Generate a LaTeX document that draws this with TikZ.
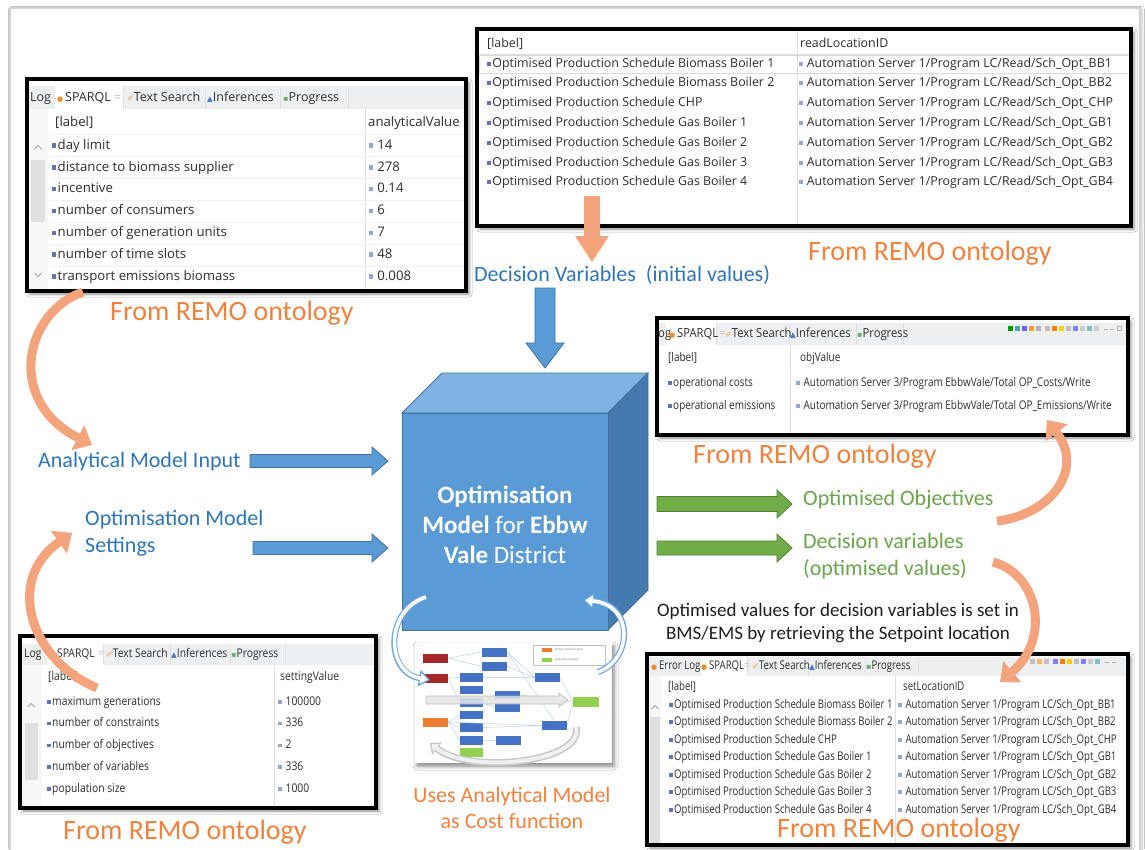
\documentclass[tikz,border=0pt]{standalone}
\usepackage{fontspec}
\setmainfont{Carlito}
\newfontfamily\uiA{Open Sans}
\newfontfamily\uiT[FakeStretch=0.9]{Open Sans}
\newfontfamily\uiC[FakeStretch=0.83]{Open Sans}
\newfontfamily\uiD[FakeStretch=0.86]{Open Sans}
\newfontfamily\uiE[FakeStretch=0.8]{Open Sans}
\newfontfamily\symf{DejaVu Sans}
\usetikzlibrary{arrows.meta,shadows.blur}

\definecolor{slideblue}{RGB}{46,117,182}
\definecolor{orangetxt}{RGB}{238,130,62}
\definecolor{greentxt}{RGB}{106,165,75}
\definecolor{notetxt}{RGB}{30,30,30}
\definecolor{boxblue}{RGB}{91,155,213}
\definecolor{boxedge}{RGB}{65,113,156}
\definecolor{cubetop}{RGB}{126,178,227}
\definecolor{cubeside}{RGB}{68,122,176}
\definecolor{arrowgreen}{RGB}{112,173,71}
\definecolor{greenedge}{RGB}{80,126,50}
\definecolor{salmon}{RGB}{243,164,124}
\definecolor{tabgray}{RGB}{238,239,241}
\definecolor{gridgray}{RGB}{222,222,222}
\definecolor{uitext}{RGB}{45,45,45}
\definecolor{bulletdark}{RGB}{100,115,175}
\definecolor{bulletlight}{RGB}{150,165,205}
\definecolor{dotorange}{RGB}{240,140,40}
\definecolor{searchy}{RGB}{225,175,80}
\definecolor{infblue}{RGB}{70,120,200}
\definecolor{proggreen}{RGB}{110,175,110}
\definecolor{arcblue}{RGB}{110,165,220}
\definecolor{tred}{RGB}{165,40,40}
\definecolor{tblue}{RGB}{68,114,196}
\definecolor{torange}{RGB}{237,125,49}
\definecolor{tgreen}{RGB}{146,208,80}

% list bullets and tab icons
\newcommand\bq{{\color{bulletdark}\rule[0.12em]{0.32em}{0.32em}}\hspace{0.1em}}
\newcommand\bv{{\color{bulletlight}\rule[0.12em]{0.32em}{0.32em}}\hspace{0.3em}}
\newcommand\tdot{{\symf\fontsize{7}{7}\selectfont\color{dotorange}●}\hspace{0.15em}}
\newcommand\tclose{{\color{gray!50}=}}
\newcommand\tsearch{{\symf\fontsize{8}{8}\selectfont\color{searchy}✐}}
\newcommand\tinf{{\symf\fontsize{7.5}{7.5}\selectfont\color{infblue}▲}}
\newcommand\tprog{{\symf\fontsize{8}{8}\selectfont\color{proggreen}▪}}

% block arrows: start, end, centre, shaft half width, head half width, head length, style
\newcommand\blockright[7]{%
  \path[#7] (#1,#3-#4) -- (#2-#6,#3-#4) -- (#2-#6,#3-#5) -- (#2,#3)
    -- (#2-#6,#3+#5) -- (#2-#6,#3+#4) -- (#1,#3+#4) -- cycle;}
\newcommand\blockdown[7]{%
  \path[#7] (#1-#4,#2) -- (#1-#4,#3-#6) -- (#1-#5,#3-#6) -- (#1,#3)
    -- (#1+#5,#3-#6) -- (#1+#4,#3-#6) -- (#1+#4,#2) -- cycle;}
% scroll bar chevrons
\newcommand\chevup[2]{\draw[gray!70,line width=0.9pt] (#1-3.5,#2+2) -- (#1,#2-1.5) -- (#1+3.5,#2+2);}
\newcommand\chevdown[2]{\draw[gray!70,line width=0.9pt] (#1-3.5,#2-2) -- (#1,#2+1.5) -- (#1+3.5,#2-2);}

\begin{document}
\begin{tikzpicture}[x=1pt,y=-1pt,
  panelbg/.style={fill=white, blur shadow={shadow xshift=3pt, shadow yshift=-3pt, shadow blur radius=3pt, shadow opacity=45}},
  panelline/.style={draw=black, line width=4pt},
  cellbase/.style={text=uitext, inner sep=0pt, anchor=west},
  cellA/.style={cellbase, font=\uiA\fontsize{13.2}{15}\selectfont, text height=9.6pt, text depth=3pt},
  cellB/.style={cellbase, font=\uiA\fontsize{12.4}{14}\selectfont, text height=9pt, text depth=2.8pt},
  cellC/.style={cellbase, font=\uiC\fontsize{12}{14}\selectfont, text height=8.7pt, text depth=2.7pt},
  cellD/.style={cellbase, font=\uiD\fontsize{12}{14}\selectfont, text height=8.7pt, text depth=2.7pt},
  cellE/.style={cellbase, font=\uiE\fontsize{12}{14}\selectfont, text height=8.7pt, text depth=2.7pt},
  tabA/.style={cellbase, font=\uiA\fontsize{12.5}{14}\selectfont, text height=9pt, text depth=2.8pt},
  tabC/.style={cellbase, font=\uiT\fontsize{12.5}{14}\selectfont, text height=9pt, text depth=2.8pt},
  tabD/.style={cellD},
  tabE/.style={cellE},
  slidetext/.style={inner sep=0pt, anchor=west, align=left, font=\fontsize{22}{27}\selectfont},
  bluetext/.style={slidetext, text=slideblue},
  greentext/.style={slidetext, text=greentxt},
  fromremo/.style={inner sep=0pt, anchor=west, font=\fontsize{28}{32}\selectfont, text=orangetxt},
  bluearr/.style={fill=boxblue, draw=boxedge, line width=0.8pt},
  greenarr/.style={fill=arrowgreen, draw=greenedge, line width=0.8pt},
  salmonblk/.style={fill=salmon},
  salmonarc/.style={draw=salmon, line width=9pt, -{Triangle[length=16pt,width=28pt,line width=0pt]}},
  tb/.style={minimum width=25pt, minimum height=9pt, inner sep=0pt},
  tline/.style={draw=tblue!35, line width=0.5pt},
]
\useasboundingbox (0,0) rectangle (1145,849);
\fill[white] (0,0) rectangle (1145,849);

% slide frame
\draw[gray!35, line width=1.2pt, fill=white, blur shadow={shadow xshift=1.5pt, shadow yshift=-1.5pt, shadow blur radius=3pt, shadow opacity=30}] (10,8) rectangle (1140,880);

% ---------------- analytical model input table
\fill[panelbg] (27,79) rectangle (466,291);
\fill[tabgray] (29,86) rectangle (464,109);
\fill[white] (55,86) rectangle (123,109);
\draw[gridgray] (123,87) -- (123,108) (205,87) -- (205,108) (280,87) -- (280,108) (348,87) -- (348,108);
\fill[gray!6] (29,109) rectangle (48,289);
\fill[gray!25] (31,160) rectangle (45,222);
\chevup{38}{147}
\chevdown{38}{275}
\draw[gridgray] (365,109) -- (365,289);
\foreach \yy in {134,156.5,178,200,222,244,266} \draw[gray!10] (50,\yy) -- (464,\yy);
\node[tabA] (p1t0) at (30,98) {Log};
\node[tabA] (p1t1) at (57,98) {\tdot SPARQL};
\node[tabA] (p1t2) at (114,98) {\tclose};
\node[tabA] (p1t3) at (127,98) {\tsearch Text Search};
\node[tabA] (p1t4) at (207,98) {\tinf Inferences};
\node[tabA] (p1t5) at (283,98) {\tprog Progress};
\node[cellA] (p1h1) at (55,123) {[label]};
\node[cellA] (p1h2) at (368,123) {analyticalValue};
\foreach \lab/\val [count=\i] in {day limit/14, distance to biomass supplier/278, incentive/0.14, number of consumers/6, number of generation units/7, number of time slots/48, transport emissions biomass/0.008}{
  \node[cellA] (p1l\i) at (52,{146+21.8*(\i-1)}) {\bq\lab};
  \node[cellA] (p1v\i) at (369,{146+21.8*(\i-1)}) {\bv\val};
}
\draw[panelline] (27,79) rectangle (466,291);

% ---------------- read location table
\fill[panelbg] (477,29) rectangle (1131,226);
\draw[gridgray] (479,54) -- (1129,54);
\draw[gridgray] (797,31) -- (797,224);
\draw[gray!30] (479,55) rectangle (1129,73.5);
\node[cellB] (p2h1) at (487,44) {[label]};
\node[cellB] (p2h2) at (800,44) {readLocationID};
\foreach \s/\c [count=\i] in {Biomass Boiler 1/BB1, Biomass Boiler 2/BB2, CHP/CHP, Gas Boiler 1/GB1, Gas Boiler 2/GB2, Gas Boiler 3/GB3, Gas Boiler 4/GB4}{
  \node[cellB] (p2l\i) at (487,{64+19.8*(\i-1)}) {\bq Optimised Production Schedule \s};
  \node[cellB] (p2v\i) at (799,{64+19.8*(\i-1)}) {\bv Automation Server 1/Program LC/Read/Sch\_Opt\_\c};
}
\draw[panelline] (477,29) rectangle (1131,226);

% ---------------- objective values table
\fill[panelbg] (657,318) rectangle (1128,435);
\fill[tabgray] (659,323) rectangle (1126,345);
\fill[white] (666,323) rectangle (716,345);
\draw[gridgray] (716,324) -- (716,344) (789,324) -- (789,344) (856,324) -- (856,344) (903,324) -- (903,344);
\node[tabC] (p3t0) at (658,334) {og};
\node[tabC] (p3t1) at (669,334) {\tdot SPARQL};
\node[tabC] (p3t2) at (719,334) {\tclose};
\node[tabC] (p3t3) at (725,334) {\tsearch Text Search};
\node[tabC] (p3t4) at (790,334) {\tinf Inferences};
\node[tabC] (p3t5) at (857,334) {\tprog Progress};
\foreach \xx/\cc in {1008/green!60!black,1015/teal!70,1022/blue!60,1029/orange!80,1036/gray!60,1045/gray!50,1052/orange,1059/yellow!70!orange,1066/gray!50,1073/blue!50,1080/gray!40,1087/teal!50,1094/gray!40}
  \fill[\cc] (\xx,326) rectangle ++(4.5,4.5);
\draw[gray!60] (1104,329) -- (1108,329) (1110,329) -- (1114,329) (1117,326) rectangle (1121,330);
\draw[gridgray] (790,345) -- (790,433);
\node[cellC] (p3h1) at (668,358) {[label]};
\node[cellC] (p3h2) at (800,358) {objValue};
\node[cellC] (p3l1) at (668,383) {\bq operational costs};
\node[cellC] (p3v1) at (796,383) {\bv Automation Server 3/Program EbbwVale/Total OP\_Costs/Write};
\node[cellC] (p3l2) at (668,406) {\bq operational emissions};
\node[cellC] (p3v2) at (796,406) {\bv Automation Server 3/Program EbbwVale/Total OP\_Emissions/Write};
\draw[panelline] (657,318) rectangle (1128,435);

% ---------------- optimisation settings table
\fill[panelbg] (20,636) rectangle (376,808);
\fill[tabgray] (22,644) rectangle (374,665);
\fill[white] (47,644) rectangle (103,665);
\draw[gridgray] (103,645) -- (103,664) (170,645) -- (170,664) (230,645) -- (230,664) (285,645) -- (285,664);
\fill[gray!6] (22,665) rectangle (42,806);
\fill[gray!25] (25,723) rectangle (38,780);
\chevup{31}{705}
\draw[gridgray] (274,665) -- (274,806);
\node[tabD] (p4t0) at (24,654) {Log};
\node[tabD] (p4t1) at (49,654) {\tdot SPARQL};
\node[tabD] (p4t2) at (98,654) {\tclose};
\node[tabD] (p4t3) at (106,654) {\tsearch Text Search};
\node[tabD] (p4t4) at (171,654) {\tinf Inferences};
\node[tabD] (p4t5) at (231,654) {\tprog Progress};
\node[cellD] (p4h1) at (48,677) {[label]};
\node[cellD] (p4h2) at (280,677) {settingValue};
\foreach \lab/\val [count=\i] in {maximum generations/100000, number of constraints/336, number of objectives/2, number of variables/336, population size/1000}{
  \node[cellD] (p4l\i) at (47,{702+21.9*(\i-1)}) {\bq\lab};
  \node[cellD] (p4v\i) at (278,{702+21.9*(\i-1)}) {\bv\val};
}
\draw[panelline] (20,636) rectangle (376,808);

% ---------------- set location table
\fill[panelbg] (647,654) rectangle (1128,845);
\fill[tabgray] (649,657) rectangle (1126,676);
\fill[white] (701,657) rectangle (747,676);
\draw[gridgray] (747,658) -- (747,675) (808,658) -- (808,675) (865,658) -- (865,675) (918,658) -- (918,675);
\node[tabE] (p5t0) at (651,666) {\tdot Error Log};
\node[tabE] (p5t1) at (701,666) {\tdot SPARQL};
\node[tabE] (p5t2) at (744,666) {\tclose};
\node[tabE] (p5t3) at (752,666) {\tsearch Text Search};
\node[tabE] (p5t4) at (809,666) {\tinf Inferences};
\node[tabE] (p5t5) at (866,666) {\tprog Progress};
\foreach \xx/\cc in {1030/gray!50,1037/orange!60,1044/gray!50,1053/blue!50,1060/orange,1067/yellow!70!orange,1074/gray!50,1081/blue!50,1088/gray!40,1095/teal!50}
  \fill[\cc] (\xx,659) rectangle ++(4.5,4.5);
\draw[gray!60] (1105,662) -- (1109,662) (1112,662) -- (1116,662);
\fill[gray!6] (649,676) rectangle (661,843);
\fill[gray!25] (650,717) rectangle (660,843);
\chevup{655}{707}
\draw[gridgray] (895,676) -- (895,843);
\node[cellE] (p5h1) at (668,687) {[label]};
\node[cellE] (p5h2) at (903,687) {setLocationID};
\foreach \s/\c [count=\i] in {Biomass Boiler 1/BB1, Biomass Boiler 2/BB2, CHP/CHP, Gas Boiler 1/GB1, Gas Boiler 2/GB2, Gas Boiler 3/GB3, Gas Boiler 4/GB4}{
  \node[cellE] (p5l\i) at (669,{705+17.5*(\i-1)}) {\bq Optimised Production Schedule \s};
  \node[cellE] (p5v\i) at (898,{705+17.5*(\i-1)}) {\bv Automation Server 1/Program LC/Sch\_Opt\_\c};
}
\node[fromremo] (f5) at (777,830) {From REMO ontology};
\draw[panelline] (647,654) rectangle (1128,845);

% ---------------- captions
\node[fromremo] (f1) at (110,313) {From REMO ontology};
\node[fromremo] (f2) at (808,253) {From REMO ontology};
\node[fromremo] (f3) at (693,456) {From REMO ontology};
\node[fromremo] (f4) at (63,832) {From REMO ontology};
\node[bluetext] (ami) at (38,462) {Analytical Model Input};
\node[bluetext] (oms) at (85,533.5) {Optimisation Model\\Settings};
\node[bluetext] (dvi) at (474,275) {Decision Variables~ (initial values)};
\node[greentext] (oo) at (803,500) {Optimised Objectives};
\node[greentext] (dvo) at (803,556.5) {Decision variables\\(optimised values)};
\node[inner sep=0pt, align=center, text=notetxt, font=\fontsize{19}{23}\selectfont] (note) at (838,623.5)
  {Optimised values for decision variables is set in\\BMS/EMS by retrieving the Setpoint location};
\node[inner sep=0pt, align=center, text=orangetxt, font=\fontsize{22}{26}\selectfont] (uses) at (512,808)
  {Uses Analytical Model\\as Cost function};

% ---------------- block arrows
\blockdown{592}{196}{262}{8}{17}{26}{salmonblk}
\blockdown{545}{288}{368}{10}{19}{25}{bluearr}
\blockright{250}{388}{461}{6.5}{14}{16}{bluearr}
\blockright{253}{388}{548}{6.5}{14}{16}{bluearr}
\blockright{657}{792}{504}{7.5}{14}{15}{greenarr}
\blockright{657}{792}{548}{7}{14}{15}{greenarr}

% ---------------- optimisation model cube
\filldraw[fill=cubetop, draw=boxedge, line width=0.8pt] (402,413) -- (442,373) -- (648,373) -- (608,413) -- cycle;
\filldraw[fill=cubeside, draw=boxedge, line width=0.8pt] (608,413) -- (648,373) -- (648,590) -- (608,630) -- cycle;
\filldraw[fill=boxblue, draw=boxedge, line width=0.8pt] (402,413) rectangle (608,630);
\node[inner sep=0pt, align=center, text=white, font=\fontsize{25}{30}\selectfont] (cube) at (505,525)
  {\textbf{Optimisation}\\\textbf{Model} for \textbf{Ebbw}\\\textbf{Vale} District};

% ---------------- analytical model thumbnail
\fill[white, blur shadow={shadow xshift=2pt, shadow yshift=-3pt, shadow blur radius=4pt, shadow opacity=50}] (415,643) rectangle (612,763);
\node[tb, fill=tred] (thr1) at (435.5,658) {};
\node[tb, fill=tred] (thr2) at (435.5,678) {};
\node[tb, fill=torange] (tho) at (435.5,722) {};
\node[tb, fill=tblue] (tht1) at (494.5,652) {};
\node[tb, fill=tblue] (tht2) at (494.5,666.5) {};
\foreach \yy [count=\i] in {677.5,690,702.5,715,727.5,740.5}
  \node[tb, fill=tblue, minimum width=23pt, minimum height=8.5pt] (thc\i) at (471.5,\yy) {};
\node[tb, fill=tgreen, minimum width=23pt, minimum height=8.5pt] (thc7) at (471.5,752.5) {};
\node[tb, fill=tblue, minimum height=8.5pt] (thm1) at (507.5,695) {};
\node[tb, fill=tblue, minimum height=8.5pt] (thm2) at (507.5,707.5) {};
\node[tb, fill=tblue, minimum height=8.5pt] (thm3) at (508.5,740.5) {};
\node[tb, fill=tblue] (thq1) at (547.5,677.5) {};
\node[tb, fill=tblue] (thq2) at (554.5,725.5) {};
\node[tb, fill=tgreen, minimum width=26pt, minimum height=10pt] (thg) at (586,702) {};
\node[draw=gray!50, fill=white, line width=0.4pt, minimum width=72pt, minimum height=20pt, inner sep=0pt] (thlg) at (569,655) {};
\fill[torange] (542,648) rectangle (552,652);
\fill[tgreen] (542,658) rectangle (552,662);
\node[inner sep=0pt, anchor=west, font=\fontsize{3}{3}\selectfont, text=gray] (thl1) at (555,650) {Design Variable (Input)};
\node[inner sep=0pt, anchor=west, font=\fontsize{3}{3}\selectfont, text=gray] (thl2) at (555,660) {Objectives (Output)};
\draw[tline] (thr1.east) -- (tht1.west) (thr1.east) -- (tht2.west) (thr2.east) -- (thc1.west)
  (tht1.east) -- (thq1.west) (tht2.east) -- (thq1.west) (thc1.east) -- (thq1.west)
  (thc3.east) -- (thm1.west) (thc3.east) -- (thm2.west) (thc6.east) -- (thm3.west)
  (tho.east) -- (thc4.west) (tho.east) -- (thc5.west) (tho.east) -- (thc6.west) (tho.east) -- (thq2.west)
  (thm1.east) -- (thg.west) (thq1.east) -- (thg.west) (thq2.east) -- (thg.west)
  (tht1.east) -- (thq2.north) (thc5.east) -- (thq2.west) (thr2.east) -- (thc3.west);
\blockright{426}{568}{700}{4}{7}{9}{fill=gray!20, draw=gray!60, line width=0.6pt, opacity=0.85}
\coordinate (tgs) at (576,727);
\coordinate (tge) at (430,743);
\draw[gray!45, line width=7pt, -{Triangle[length=9pt,width=16pt,line width=0pt]}] (tgs) .. controls (585,762) and (470,775) .. (tge);
\draw[gray!12, line width=4pt, shorten >=2pt, -{Triangle[length=6pt,width=10pt,line width=0pt]}] (tgs) .. controls (585,762) and (470,775) .. (tge);

% ---------------- loop arrows between cube and thumbnail
\coordinate (b1s) at (426,597);
\coordinate (b1e) at (430,680);
\coordinate (b2s) at (598,672);
\coordinate (b2e) at (583,600);
\draw[arcblue, line width=6pt, -{Triangle[length=11pt,width=17pt,line width=0pt]}] (b1s) .. controls (385,610) and (385,672) .. (b1e);
\draw[white, line width=3.6pt, shorten >=2.2pt, -{Triangle[length=7.5pt,width=11pt,line width=0pt]}] (b1s) .. controls (385,610) and (385,672) .. (b1e);
\draw[arcblue, line width=6pt, -{Triangle[length=11pt,width=17pt,line width=0pt]}] (b2s) .. controls (632,660) and (635,605) .. (b2e);
\draw[white, line width=3.6pt, shorten >=2.2pt, -{Triangle[length=7.5pt,width=11pt,line width=0pt]}] (b2s) .. controls (632,660) and (635,605) .. (b2e);

% ---------------- curved "from ontology" arrows
\coordinate (a1s) at (83,292);
\coordinate (a1e) at (92,445);
\coordinate (a2s) at (97,688);
\coordinate (a2e) at (72,533);
\coordinate (a3s) at (997,521);
\coordinate (a3e) at (1047,420);
\coordinate (a4s) at (993,562);
\coordinate (a4e) at (1000,682);
\draw[salmonarc] (a1s) .. controls (25,312) and (5,400) .. (a1e);
\draw[salmonarc] (a2s) .. controls (30,660) and (5,580) .. (a2e);
\draw[salmonarc] (a3s) .. controls (1050,515) and (1085,470) .. (a3e);
\draw[salmonarc] (a4s) .. controls (1040,575) and (1050,640) .. (a4e);
\end{tikzpicture}
\end{document}
